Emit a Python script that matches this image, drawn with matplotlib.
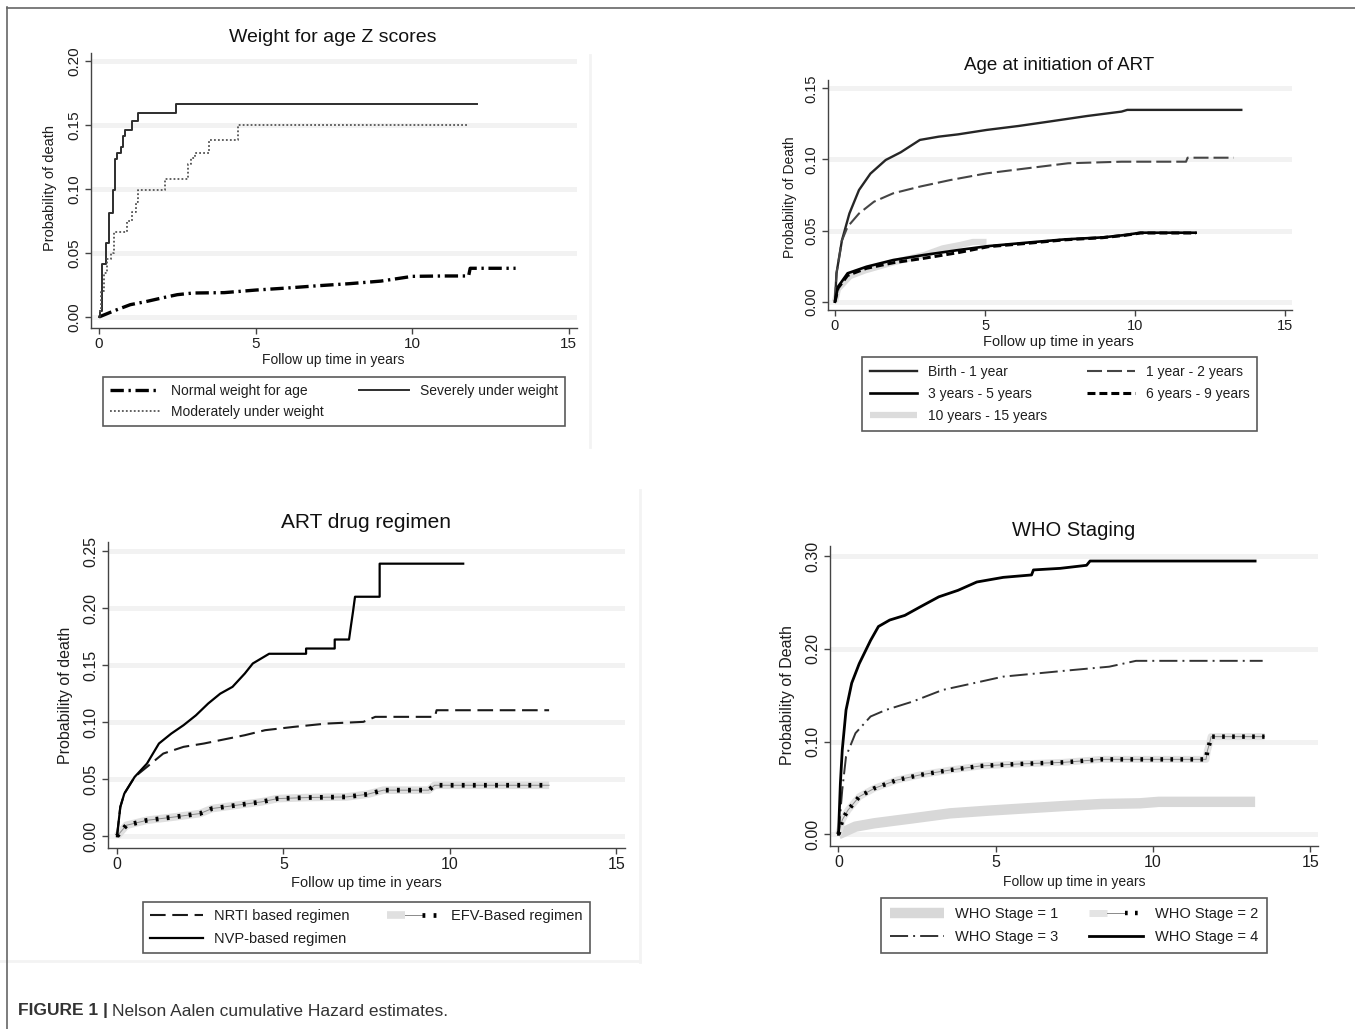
import matplotlib
matplotlib.use('Agg')
import matplotlib.pyplot as plt
from matplotlib.lines import Line2D
from matplotlib.legend_handler import HandlerTuple

# ---------------- data ----------------
# Panel 1: Weight for age Z scores
p1_normal_t = [0, 0.5, 1, 1.5, 2, 2.5, 3, 4, 5, 6, 7, 8, 9, 10, 11, 11.8, 11.85, 13.3]
p1_normal_v = [0, 0.005, 0.0096, 0.012, 0.0148, 0.0174, 0.0187, 0.019, 0.021, 0.0226, 0.0244,
               0.026, 0.028, 0.0317, 0.032, 0.032, 0.038, 0.038]
p1_severe_t = [0, 0.02, 0.09, 0.21, 0.33, 0.45, 0.51, 0.57, 0.70, 0.76, 0.82, 1.06, 1.25, 2.47, 12.07]
p1_severe_v = [0, 0.005, 0.041, 0.058, 0.081, 0.099, 0.123, 0.128, 0.133, 0.141, 0.146, 0.153, 0.159, 0.166, 0.166]
p1_moder_t = [0, 0.05, 0.15, 0.27, 0.39, 0.49, 0.88, 1.06, 1.18, 1.25, 2.10, 2.84, 2.95, 3.08, 3.51, 4.43, 11.82]
p1_moder_v = [0.005, 0.02, 0.034, 0.045, 0.05, 0.066, 0.075, 0.082, 0.09, 0.099, 0.108, 0.119, 0.124,
              0.128, 0.138, 0.150, 0.150]

# Panel 2: Age at initiation of ART
p2_birth_t = [0, 0.05, 0.23, 0.48, 0.8, 1.18, 1.69, 2.19, 2.83, 3.46, 4.1, 5.05, 6.12, 7.14, 8.4, 9.55, 9.74, 13.54]
p2_birth_v = [0, 0.02, 0.043, 0.062, 0.0785, 0.090, 0.0996, 0.105, 0.1137, 0.116, 0.1176, 0.1207,
              0.1235, 0.1266, 0.1305, 0.1336, 0.1348, 0.1348]
p2_y1_2_t = [0, 0.05, 0.23, 0.42, 0.8, 1.3, 1.94, 2.83, 3.84, 5.05, 6.38, 7.77, 9.55, 11.7, 11.75, 13.29]
p2_y1_2_v = [0, 0.02, 0.043, 0.0527, 0.062, 0.0703, 0.0762, 0.0809, 0.0855, 0.0902, 0.0937, 0.0973,
             0.0984, 0.0984, 0.1012, 0.1012]
p2_y3_5_t = [0, 0.1, 0.42, 1.05, 1.94, 2.95, 4.1, 5.11, 6.38, 7.65, 8.91, 9.67, 10.18, 12.02]
p2_y3_5_v = [0, 0.0105, 0.02, 0.0246, 0.0293, 0.0328, 0.0363, 0.0391, 0.0415, 0.0438, 0.0452, 0.0469, 0.0485, 0.0485]
p2_y6_9_t = [0, 0.1, 0.42, 1.05, 1.94, 2.95, 4.1, 5.11, 6.38, 7.65, 8.91, 9.67, 10.18, 12.02]
p2_y6_9_v = [0, 0.0095, 0.0185, 0.0235, 0.0274, 0.0305, 0.0345, 0.0387, 0.041, 0.0435, 0.045, 0.0467, 0.0483, 0.0483]
p2_y10_15_t = [0, 0.1, 0.5, 1.0, 2.0, 3.0, 3.59, 4.2, 4.6, 5.05]
p2_y10_15_v = [0, 0.009, 0.018, 0.022, 0.028, 0.033, 0.0375, 0.040, 0.042, 0.042]

# Panel 3: ART drug regimen
p3_nvp_t = [0, 0.1, 0.22, 0.53, 0.9, 1.26, 1.63, 2.0, 2.37, 2.74, 3.1, 3.47, 3.84, 4.08, 4.57, 5.68, 5.68,
            6.54, 6.54, 6.97, 7.03, 7.09, 7.15, 7.89, 7.89, 10.4]
p3_nvp_v = [0, 0.0257, 0.0374, 0.052, 0.0637, 0.0813, 0.090, 0.0974, 0.106, 0.1164, 0.125, 0.131, 0.1427,
            0.1515, 0.160, 0.160, 0.1646, 0.1646, 0.1725, 0.1725, 0.185, 0.197, 0.21, 0.21, 0.239, 0.239]
p3_nrti_t = [0, 0.1, 0.22, 0.53, 0.9, 1.39, 2.0, 2.61, 3.35, 3.84, 4.45, 5.31, 6.29, 7.4, 7.76, 9.55, 9.6, 12.98]
p3_nrti_v = [0, 0.0257, 0.0374, 0.052, 0.0608, 0.0725, 0.0784, 0.0813, 0.0857, 0.0886, 0.093, 0.0959,
             0.0988, 0.1003, 0.1047, 0.1047, 0.1105, 0.1105]
p3_efv_t = [0, 0.28, 0.9, 1.75, 2.49, 2.86, 3.59, 4.33, 4.82, 5.68, 6.9, 7.52, 8.0, 9.36, 9.54, 12.98]
p3_efv_v = [0, 0.0096, 0.014, 0.017, 0.0199, 0.0243, 0.0272, 0.0301, 0.033, 0.0339, 0.0345, 0.0368,
            0.0404, 0.0404, 0.0447, 0.0447]

# Panel 4: WHO Staging
p4_s4_t = [0, 0.06, 0.12, 0.24, 0.42, 0.66, 1.02, 1.27, 1.63, 2.11, 2.59, 3.19, 3.8, 4.4, 5.24, 6.14, 6.2,
           7.05, 7.89, 8.0, 13.25]
p4_s4_v = [0, 0.055, 0.091, 0.134, 0.163, 0.184, 0.209, 0.224, 0.231, 0.236, 0.245, 0.256, 0.263, 0.272,
           0.277, 0.2796, 0.285, 0.2867, 0.29, 0.2946, 0.2946]
p4_s3_t = [0, 0.12, 0.24, 0.54, 1.02, 1.5, 2.35, 3.31, 4.28, 5.24, 6.33, 7.41, 8.61, 9.1, 9.46, 13.49]
p4_s3_v = [0, 0.048, 0.084, 0.109, 0.127, 0.134, 0.143, 0.1556, 0.1628, 0.170, 0.1735, 0.177, 0.1807,
           0.1843, 0.187, 0.187]
p4_s2_t = [0, 0.12, 0.3, 0.66, 1.14, 1.87, 2.59, 3.55, 4.52, 5.72, 7.17, 8.37, 11.69, 11.73, 11.8, 11.85, 13.55]
p4_s2_v = [0, 0.0155, 0.026, 0.0406, 0.0496, 0.0586, 0.064, 0.0693, 0.0737, 0.0758, 0.0776, 0.0808,
           0.0808, 0.0898, 0.098, 0.1053, 0.1053]
p4_s1_t = [0, 0.54, 1.14, 2.35, 3.55, 4.76, 5.96, 7.17, 8.37, 9.58, 10.18, 13.25]
p4_s1_v = [0, 0.0083, 0.0119, 0.0172, 0.0226, 0.0255, 0.028, 0.0305, 0.0327, 0.0334, 0.035, 0.035]

x_ticks = [0, 5, 10, 15]
p1_yticks = [0, 0.05, 0.10, 0.15, 0.20]
p2_yticks = [0, 0.05, 0.10, 0.15]
p3_yticks = [0, 0.05, 0.10, 0.15, 0.20, 0.25]
p4_yticks = [0, 0.10, 0.20, 0.30]

XLAB = "Follow up time in years"

# ---------------- figure ----------------
plt.rcParams['font.family'] = ['Liberation Sans', 'DejaVu Sans']
W, H = 1355, 1029
fig = plt.figure(figsize=(W / 100, H / 100), dpi=100)
TXT = '#1e1e1e'


def box(x0, y0, x1, y1):
    return [x0 / W, 1 - y1 / H, (x1 - x0) / W, (y1 - y0) / H]


def style(ax, xlim, ylim, yticks, tfs, xl_pos, yl_pos, ylab, xfs, yfs):
    ax.set_xlim(xlim)
    ax.set_ylim(ylim)
    ax.set_xticks(x_ticks)
    ax.set_yticks(yticks)
    ax.set_yticklabels([f'{v:.2f}' for v in yticks])
    for s in ['top', 'right']:
        ax.spines[s].set_visible(False)
    for s in ['left', 'bottom']:
        ax.spines[s].set_color('#444')
        ax.spines[s].set_linewidth(1.0)
    ax.tick_params(length=4.3, width=1, color='#444', labelcolor=TXT, labelsize=tfs, pad=2.5)
    ax.tick_params(axis='y', labelrotation=90)
    for lab in ax.get_yticklabels():
        lab.set_va('center')
    ax.grid(axis='y', color='#f2f2f2', lw=3.5)
    ax.set_axisbelow(True)
    ax.set_xlabel(XLAB, fontsize=xfs, color=TXT)
    ax.set_ylabel(ylab, fontsize=yfs, color=TXT)
    ax.xaxis.set_label_coords(*xl_pos)
    ax.yaxis.set_label_coords(*yl_pos)
    ax.xaxis.label.set_va('center')
    ax.yaxis.label.set_va('center')


def legend(ax, handles, labels, lb, fs, ls, bp, hl):
    x0, y0, x1, y1 = lb
    leg = ax.legend(handles, labels, loc='upper left',
                    bbox_to_anchor=(x0 / W, 1 - y1 / H, (x1 - x0) / W, (y1 - y0) / H),
                    bbox_transform=fig.transFigure, mode='expand', ncol=2,
                    frameon=True, fancybox=False, edgecolor='#5a5a5a', framealpha=1,
                    prop={'size': fs}, handlelength=hl, handletextpad=0.8,
                    borderpad=bp, labelspacing=ls, borderaxespad=0,
                    handler_map={tuple: HandlerTuple(ndivide=None, pad=0)})
    leg.get_frame().set_linewidth(1.2)
    for t in leg.get_texts():
        t.set_color(TXT)
    return leg


def band_marks(ax, t, v, base_lw, base_col, mark_lw, dashes):
    b, = ax.plot(t, v, color=base_col, lw=base_lw, solid_capstyle='butt')
    c, = ax.plot(t, v, color='#8a8a8a', lw=0.7)
    m, = ax.plot(t, v, color='black', lw=mark_lw, dashes=dashes, dash_capstyle='butt')
    return (b, c, m)


# ---- Panel 1 ----
ax1 = fig.add_axes(box(91, 53, 577, 328))
l1a, = ax1.plot(p1_normal_t, p1_normal_v, color='black', lw=2.4, dashes=(4, 1.4, 0.7, 1.4),
                dash_capstyle='butt')
l1b, = ax1.plot(p1_severe_t, p1_severe_v, color='#2e2e2e', lw=1.4, drawstyle='steps-post')
l1c, = ax1.plot(p1_moder_t, p1_moder_v, color='#555555', lw=1.3, dashes=(1, 1.2), drawstyle='steps-post')
style(ax1, (-0.255, 15.26), (-0.0086, 0.206), p1_yticks, 11, (0.498, -0.116), (-0.084, 0.51),
      "Probability of death", 10, 10.5)
legend(ax1, [l1a, l1c, l1b], ["Normal weight for age", "Moderately under weight", "Severely under weight"],
       (103, 377, 565, 426), 10, 0.5, 0.5, 3.6)
fig.text(333 / W, 1 - 37 / H, "Weight for age Z scores", fontsize=14, ha='center', va='center', color='#111')

# ---- Panel 2 ----
ax2 = fig.add_axes(box(828, 80, 1292, 310))
l2e, = ax2.plot(p2_y10_15_t, p2_y10_15_v, color='#dcdcdc', lw=4.5, solid_capstyle='butt')
l2a, = ax2.plot(p2_birth_t, p2_birth_v, color='#262626', lw=1.7)
l2b, = ax2.plot(p2_y1_2_t, p2_y1_2_v, color='#454545', lw=1.5, dashes=(7.2, 2.4))
l2c, = ax2.plot(p2_y3_5_t, p2_y3_5_v, color='black', lw=1.9)
l2d, = ax2.plot(p2_y6_9_t, p2_y6_9_v, color='black', lw=2.2, dashes=(2.6, 1.3))
style(ax2, (-0.233, 15.23), (-0.0058, 0.1558), p2_yticks, 10.5, (0.496, -0.138), (-0.082, 0.49),
      "Probability of Death", 10.5, 10)
legend(ax2, [l2a, l2c, l2e, l2b, l2d],
       ["Birth - 1 year", "3 years - 5 years", "10 years - 15 years", "1 year - 2 years", "6 years - 9 years"],
       (862, 357, 1257, 428), 10, 0.6, 0.55, 3.4)
fig.text(1059 / W, 1 - 66 / H, "Age at initiation of ART", fontsize=13.5, ha='center', va='center', color='#111')

# ---- Panel 3 ----
ax3 = fig.add_axes(box(108, 542, 625, 848))
l3c = band_marks(ax3, p3_efv_t, p3_efv_v, 5.5, '#e0e0e0', 3.4, (0.6, 1.75))
l3a, = ax3.plot(p3_nrti_t, p3_nrti_v, color='#1a1a1a', lw=1.5, dashes=(7.5, 3.2))
l3b, = ax3.plot(p3_nvp_t, p3_nvp_v, color='black', lw=1.6)
style(ax3, (-0.27, 15.26), (-0.0103, 0.258), p3_yticks, 11.5, (0.50, -0.116), (-0.083, 0.50),
      "Probability of death", 10.5, 11.5)
legend(ax3, [l3a, l3b, l3c], ["NRTI based regimen", "NVP-based regimen", "EFV-Based regimen"],
       (143, 902, 590, 957), 10.5, 0.6, 0.5, 3.6)
fig.text(366 / W, 1 - 523 / H, "ART drug regimen", fontsize=15, ha='center', va='center', color='#111')

# ---- Panel 4 ----
ax4 = fig.add_axes(box(830, 546, 1318, 846))
l4a, = ax4.plot(p4_s1_t, p4_s1_v, color='#d8d8d8', lw=7.5, solid_capstyle='butt')
l4b = band_marks(ax4, p4_s2_t, p4_s2_v, 5.0, '#e4e4e4', 3.2, (0.6, 1.65))
l4c, = ax4.plot(p4_s3_t, p4_s3_v, color='#333333', lw=1.4, dashes=(9.3, 2.6, 1, 2.6))
l4d, = ax4.plot(p4_s4_t, p4_s4_v, color='black', lw=2.0)
style(ax4, (-0.27, 15.25), (-0.0126, 0.3108), p4_yticks, 11.5, (0.50, -0.119), (-0.088, 0.503),
      "Probability of Death", 10, 11.5)
legend(ax4, [l4a, l4c, l4b, l4d], ["WHO Stage = 1", "WHO Stage = 3", "WHO Stage = 2", "WHO Stage = 4"],
       (881, 898, 1267, 958), 10.5, 0.65, 0.6, 3.7)
fig.text(1074 / W, 1 - 531 / H, "WHO Staging", fontsize=14.5, ha='center', va='center', color='#111')

# ---- faint image edges and outer frame ----
def fline(xs, ys, col, lw):
    fig.add_artist(Line2D([x / W for x in xs], [1 - y / H for y in ys], color=col, lw=lw,
                          transform=fig.transFigure))

fline([590, 590], [55, 447], '#f3f3f3', 2)
fline([640, 640], [490, 962], '#f3f3f3', 2)
fline([0, 640], [961, 961], '#f3f3f3', 2)
fline([7, 7], [7, 1029], '#666666', 1.2)
fline([7, 1355], [7.5, 7.5], '#666666', 1.2)

# ---- caption ----
cap_y = 1 - 1011 / H
t1 = fig.text(18 / W, cap_y, "FIGURE 1 |", fontsize=12.5, fontweight='bold', color='#333',
              ha='left', va='center')
fig.canvas.draw()
bb = t1.get_window_extent()
fig.text((bb.x1 + 4) / W, cap_y, "Nelson Aalen cumulative Hazard estimates.", fontsize=12.5, color='#333',
         ha='left', va='center')

fig.savefig('out.png', dpi=100, facecolor='white')
